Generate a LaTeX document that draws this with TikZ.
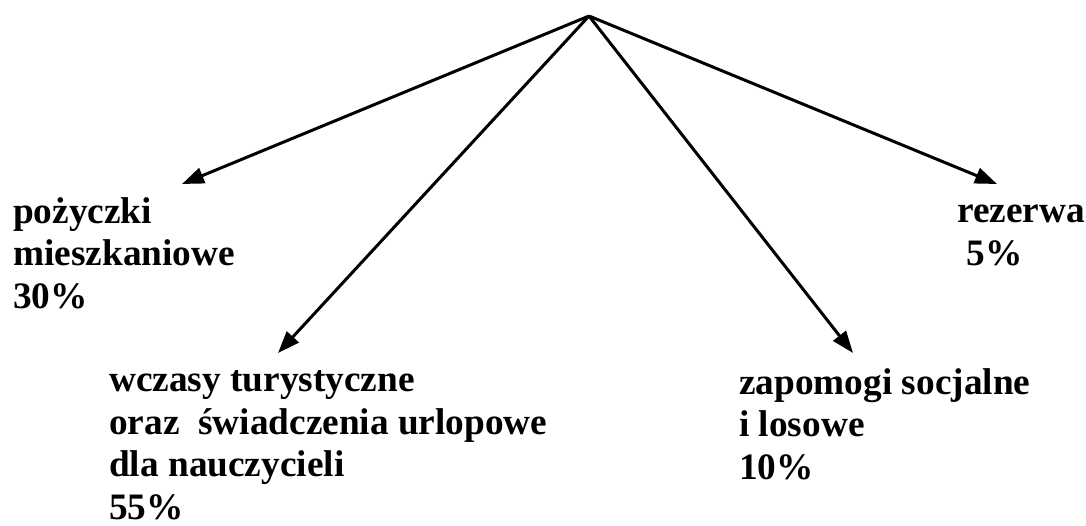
\documentclass[tikz,border=0pt]{standalone}
\usepackage{fontspec}
\setmainfont{Liberation Serif}
\usetikzlibrary{arrows.meta}
\begin{document}
\begin{tikzpicture}[x=1pt,y=-1pt,
  lbl/.style={anchor=base west,inner sep=0pt,align=left,
    font=\fontsize{37.3}{42.5}\selectfont\bfseries},
  arr/.style={line width=3pt,-{Triangle[length=22pt,width=16pt]}}]
\useasboundingbox (0,0) rectangle (1086,525);
\coordinate (top) at (589,16);
% base anchor = baseline of the last line
\node[lbl] (a) at (13,308) {pożyczki\\mieszkaniowe\\30\%};
\node[lbl] (b) at (109,519) {wczasy turystyczne\\oraz\ \ świadczenia urlopowe\\dla nauczycieli\\55\%};
\node[lbl] (c) at (739,479) {zapomogi socjalne\\i losowe\\10\%};
\node[lbl] (d) at (957,265) {rezerwa\\\mbox{}\ 5\%};
\coordinate (ta) at (182,184);
\coordinate (tb) at (278,353);
\coordinate (tc) at (853,353);
\coordinate (td) at (997,184);
\draw[arr] (top) -- (ta);
\draw[arr] (top) -- (tb);
\draw[arr] (top) -- (tc);
\draw[arr] (top) -- (td);
\end{tikzpicture}
\end{document}
